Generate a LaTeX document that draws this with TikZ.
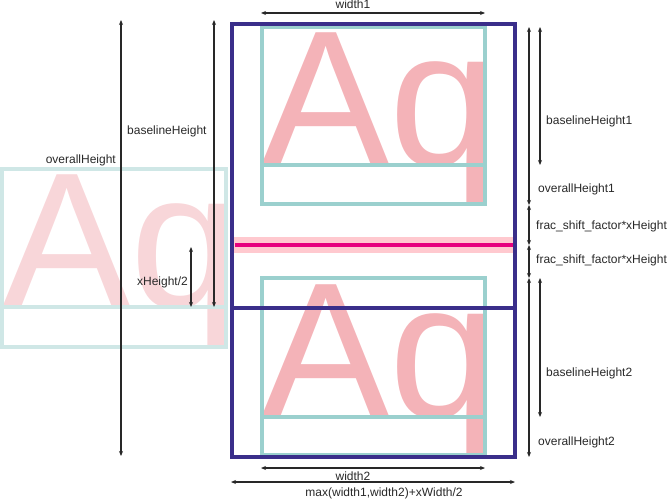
\documentclass[tikz,border=0pt]{standalone}
\usepackage{fontspec}
\setmainfont{Liberation Sans}
\usetikzlibrary{arrows.meta}
\definecolor{boxNavy}{RGB}{58,46,138}
\definecolor{glyphTeal}{RGB}{155,208,206}
\definecolor{glyphPink}{RGB}{244,179,184}
\definecolor{fadeTeal}{RGB}{207,231,230}
\definecolor{fadePink}{RGB}{248,214,217}
\definecolor{axisMagenta}{RGB}{230,0,126}
\definecolor{bandPink}{RGB}{255,201,207}
\definecolor{dimGray}{RGB}{40,40,40}
\newcommand{\bigAq}{\fontsize{193}{193}\selectfont Aq}

\begin{document}
\begin{tikzpicture}[x=1pt, y=-1pt,
  dimline/.style={dimGray, line width=1.3pt,
    {Stealth[length=5pt,width=4pt]}-{Stealth[length=5pt,width=4pt]}},
  dimlabel/.style={text=dimGray, inner sep=0pt, font=\fontsize{12}{14}\selectfont},
  glyph/.style={inner sep=0pt, anchor=base west}]

\useasboundingbox (0,0) rectangle (669,500);

%
\node[glyph, text=fadePink] (aqLeft) at (2,307) {\bigAq};
\draw[fadeTeal, line width=3.3pt] (2,169) rectangle (226,347);
\draw[fadeTeal, line width=3.3pt] (2,307) -- (226,307);

%
\node[glyph, text=glyphPink] (aqTop) at (261,165) {\bigAq};
\draw[glyphTeal, line width=3.3pt] (262,27) rectangle (485,204);
\draw[glyphTeal, line width=3.3pt] (262,165) -- (485,165);

%
\node[glyph, text=glyphPink] (aqBot) at (261,417) {\bigAq};
\draw[glyphTeal, line width=3.3pt] (262,278) rectangle (485,455);
\draw[glyphTeal, line width=3.3pt] (262,417) -- (485,417);

%
\fill[bandPink] (234,237) rectangle (514,253);
\draw[axisMagenta, line width=3.5pt] (235,245) -- (514,245);

%
\draw[boxNavy, line width=3.5pt] (232,24) rectangle (515,457);
\draw[boxNavy, line width=3.5pt] (232,308) -- (515,308);

%
\coordinate (ohTop) at (121,20);
\coordinate (ohBot) at (121,456);
\coordinate (bhTop) at (214,20);
\coordinate (bhBot) at (214,307);
\coordinate (xhTop) at (191,247);
\coordinate (xhBot) at (191,307);
\draw[dimline] (ohTop) -- (ohBot);
\draw[dimline] (bhTop) -- (bhBot);
\draw[dimline] (xhTop) -- (xhBot);
\node[dimlabel, anchor=east] (ohLabel) at (116,160) {overallHeight};
\node[dimlabel, anchor=west] (bhLabel) at (127,131) {baselineHeight};
\node[dimlabel, anchor=east] (xhLabel) at (188,282) {xHeight/2};

%
\coordinate (wOneL) at (261,13);
\coordinate (wOneR) at (485,13);
\draw[dimline] (wOneL) -- (wOneR);
\node[dimlabel] (wOneLabel) at (353,4) {width1};

%
\coordinate (oOneTop) at (529,27);
\coordinate (oOneBot) at (529,205);
\coordinate (bOneTop) at (540,27);
\coordinate (bOneBot) at (540,165);
\coordinate (fracMid) at (529,245);
\coordinate (oTwoTop) at (529,278);
\coordinate (oTwoBot) at (529,457);
\coordinate (bTwoTop) at (540,278);
\coordinate (bTwoBot) at (540,417);
\draw[dimline] (bOneTop) -- (bOneBot);
\draw[dimline] (oOneTop) -- (oOneBot);
\draw[dimline] (oOneBot) -- (fracMid);
\draw[dimline] (fracMid) -- (oTwoTop);
\draw[dimline] (oTwoTop) -- (oTwoBot);
\draw[dimline] (bTwoTop) -- (bTwoBot);
\node[dimlabel, anchor=west] (bOneLabel) at (546,121) {baselineHeight1};
\node[dimlabel, anchor=west] (oOneLabel) at (538,189) {overallHeight1};
\node[dimlabel, anchor=west] (fracOne) at (536,226) {frac\_shift\_factor*xHeight};
\node[dimlabel, anchor=west] (fracTwo) at (536,260) {frac\_shift\_factor*xHeight};
\node[dimlabel, anchor=west] (bTwoLabel) at (546,373) {baselineHeight2};
\node[dimlabel, anchor=west] (oTwoLabel) at (538,442) {overallHeight2};

%
\coordinate (wTwoL) at (261,468);
\coordinate (wTwoR) at (485,468);
\coordinate (wMaxL) at (231,482);
\coordinate (wMaxR) at (515,482);
\draw[dimline] (wTwoL) -- (wTwoR);
\draw[dimline] (wMaxL) -- (wMaxR);
\node[dimlabel] (wTwoLabel) at (353,476) {width2};
\node[dimlabel] (wMaxLabel) at (384,493) {max(width1,width2)+xWidth/2};

\end{tikzpicture}
\end{document}
